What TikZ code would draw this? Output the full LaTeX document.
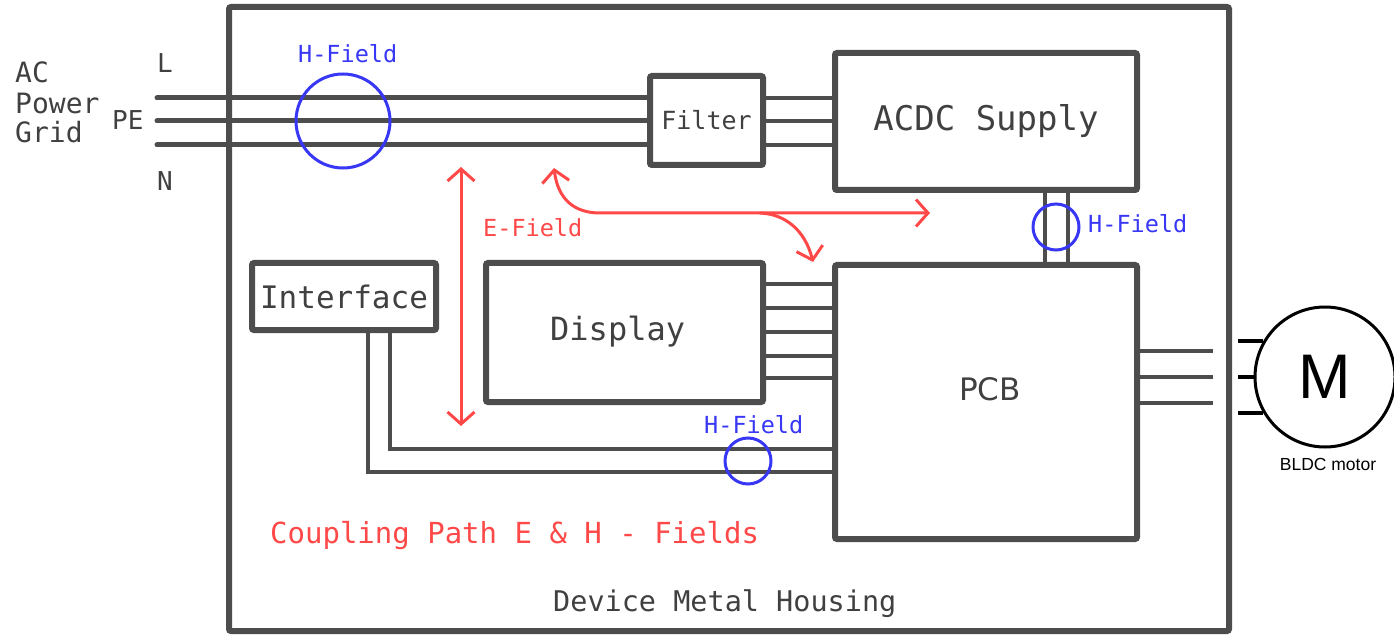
\documentclass[tikz,border=0pt]{standalone}
\usepackage{fontspec}
\usetikzlibrary{arrows.meta}

\newfontfamily\cadfont{DejaVu Sans Mono}
\newfontfamily\pcbfont{DejaVu Sans}
\newfontfamily\motorfont{Liberation Sans}
\newcommand{\cadsize}[1]{\cadfont\fontsize{#1}{#1}\selectfont}

\definecolor{boxgray}{RGB}{77,77,77}
\definecolor{txtgray}{RGB}{64,64,64}
\definecolor{fieldblue}{RGB}{55,55,245}
\definecolor{couplered}{RGB}{255,72,72}

\begin{document}
\begin{tikzpicture}[x=1pt,y=-1pt,
  box/.style={draw=boxgray,line width=6pt,rounded corners=2pt,inner sep=0pt,text=txtgray},
  mains/.style={boxgray,line width=5pt,line cap=round},
  wire/.style={boxgray,line width=4.5pt},
  hring/.style={circle,draw=fieldblue,line width=3pt,inner sep=0pt},
  lbl/.style={anchor=base west,inner sep=0pt,text=txtgray},
  hlbl/.style={lbl,text=fieldblue,font=\cadsize{23.5}},
  field/.style={couplered,line width=3pt,line cap=round},
  >={Straight Barb[length=12pt,width=27pt]}]

\useasboundingbox (0,0) rectangle (1394,636);

% Housing
\node[box,minimum width=1000pt,minimum height=624pt] (housing) at (729,319) {};
\node[lbl,font=\cadsize{28.5}] (housingtxt) at (553,611) {Device Metal Housing};

% Mains side
\node[lbl,font=\cadsize{28}] (gridA) at (15,83) {AC};
\node[lbl,font=\cadsize{28}] (gridB) at (15,114) {Power};
\node[lbl,font=\cadsize{28}] (gridC) at (15,143) {Grid};
\node[lbl,font=\cadsize{26}] (phaseL) at (157,73) {L};
\node[lbl,font=\cadsize{26}] (phasePE) at (112,130) {PE};
\node[lbl,font=\cadsize{26}] (phaseN) at (157,191) {N};

\coordinate (inL) at (157,98);
\coordinate (inPE) at (157,121);
\coordinate (inN) at (157,145);

% Blocks
\node[box,minimum width=113pt,minimum height=89pt,font=\cadsize{25}]
  (filter) at (706.5,120.5) {Filter};
\node[box,minimum width=302pt,minimum height=137pt,font=\cadsize{34}]
  (acdc) at (986,121.5) {ACDC Supply};
\node[box,minimum width=302pt,minimum height=274pt] (pcb) at (986,402) {};
\node[lbl,font=\pcbfont\fontsize{31}{31}\selectfont] (pcbtxt) at (959,400) {PCB};
\node[box,minimum width=277pt,minimum height=139pt] (display) at (624.5,332.5) {};
\node[lbl,font=\cadsize{32}] (displaytxt) at (550,340) {Display};
\node[box,minimum width=184pt,minimum height=67pt,font=\cadsize{31}]
  (iface) at (344,296.5) {Interface};

%--------------------------------------------------
% Wiring
%--------------------------------------------------
\foreach \p in {inL,inPE,inN}
  \draw[mains] (\p) -- (\p -| filter.west);
\foreach \y in {98,121,145}
  \draw[wire] (filter.east |- 0,\y) -- (acdc.west |- 0,\y);
\foreach \x in {1045,1068}
  \draw[wire] (acdc.south -| \x,0) -- (pcb.north -| \x,0);
\foreach \y in {284,308,332,356,378}
  \draw[wire] (display.east |- 0,\y) -- (pcb.west |- 0,\y);
\draw[wire] (iface.south -| 390,0) |- (pcb.west |- 0,449);
\draw[wire] (iface.south -| 368,0) |- (pcb.west |- 0,472);

% Motor
\node[circle,draw=black,fill=white,line width=3pt,minimum size=140pt,inner sep=0pt,
  font=\motorfont\fontsize{63}{63}\selectfont] (motor) at (1325,377) {M};
\node[anchor=base,inner sep=0pt,font=\motorfont\fontsize{17.5}{17.5}\selectfont]
  (motortxt) at (1328,470) {BLDC motor};
\foreach \y in {351,377,403}
  \draw[wire,line width=4pt] (pcb.east |- 0,\y) -- (1213,\y);
\foreach \a in {150,180,210}
  \draw[black,line width=4pt] (motor.\a -| 1238,0) -- (motor.\a);

%--------------------------------------------------
% H-Fields
%--------------------------------------------------
\node[hring,minimum size=94pt] (hmains) at (343,121) {};
\node[hlbl] (hmainstxt) at (298,63) {H-Field};
\node[hring,minimum size=46pt] (hsupply) at (1056,227) {};
\node[hlbl] (hsupplytxt) at (1088,233) {H-Field};
\node[hring,minimum size=46pt] (hiface) at (748,461) {};
\node[hlbl] (hifacetxt) at (704,433) {H-Field};

%--------------------------------------------------
% E-Fields
%--------------------------------------------------
\coordinate (etop) at (461,167);
\coordinate (ebot) at (461,426);
\coordinate (cstart) at (554,168);
\coordinate (cright) at (930,213);
\coordinate (cbranch) at (760,213);
\coordinate (cdown) at (813,262);

\draw[field,<->] (etop) -- (ebot);
\draw[field,<->] (cstart) .. controls (558,200) and (575,213) .. (600,213) -- (cright);
\draw[field,->] (cbranch) .. controls (785,214) and (805,230) .. (cdown);

\node[lbl,text=couplered,font=\cadsize{23.5}] (efieldtxt) at (483,237) {E-Field};
\node[lbl,text=couplered,font=\cadsize{29}] (couplingtxt) at (270,543)
  {Coupling Path E \& H - Fields};

\end{tikzpicture}
\end{document}
